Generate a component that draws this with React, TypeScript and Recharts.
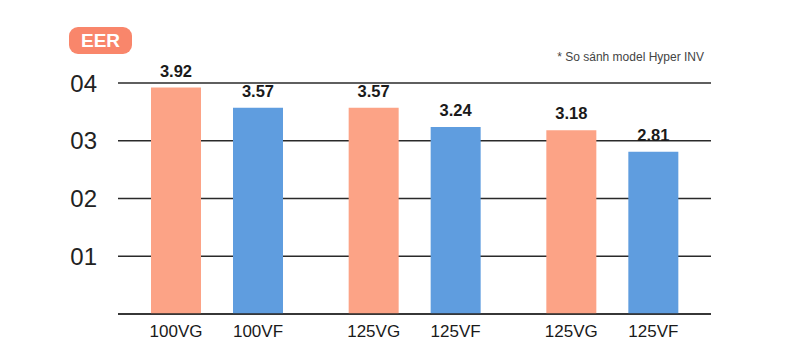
import React from 'react';
import { BarChart, Bar, XAxis, YAxis, CartesianGrid, LabelList } from 'recharts';

const categories = ['G1', 'G2', 'G3'];
const vgLabels = ['100VG', '125VG', '125VG'];
const vfLabels = ['100VF', '125VF', '125VF'];
const vgValues = [3.92, 3.57, 3.18];
const vfValues = [3.57, 3.24, 2.81];
const yTicks = [1, 2, 3, 4];

const data = categories.map((c, i) => ({
  group: c,
  vg: vgValues[i],
  vf: vfValues[i],
  vgLabel: vgLabels[i],
  vfLabel: vfLabels[i],
}));

const FONT = '"Liberation Sans", Arial, Helvetica, sans-serif';
const ORANGE = '#FCA386';
const BLUE = '#5F9DDF';

export default function App() {
  return (
    <div style={{ position: 'absolute', left: 0, top: 0, width: 800, height: 356, background: '#fff', fontFamily: FONT }}>
      <BarChart
        width={800}
        height={356}
        data={data}
        margin={{ top: 83, right: 89, bottom: 0, left: 0 }}
        barGap={32}
      >
        <CartesianGrid horizontal vertical={false} stroke="#2a2a2a" strokeWidth={1.4} />
        <XAxis
          dataKey="group"
          tick={false}
          tickLine={false}
          axisLine={{ stroke: '#2a2a2a', strokeWidth: 1.6 }}
          height={42}
        />
        <YAxis
          width={118}
          domain={[0, 4]}
          ticks={yTicks}
          tickFormatter={(v: number) => '0' + v}
          axisLine={false}
          tickLine={false}
          tickSize={0}
          tickMargin={21}
          tick={{ fill: '#222', fontSize: 24, fontFamily: FONT }}
        />
        <Bar dataKey="vg" fill={ORANGE} barSize={50} isAnimationActive={false}>
          <LabelList dataKey="vg" position="top" offset={11} formatter={(v: number) => v.toFixed(2)} fill="#1a1a1a" fontSize={16.5} fontWeight="bold" fontFamily={FONT} />
          <LabelList dataKey="vgLabel" position="bottom" offset={11} fill="#1a1a1a" fontSize={17} fontFamily={FONT} />
        </Bar>
        <Bar dataKey="vf" fill={BLUE} barSize={50} isAnimationActive={false}>
          <LabelList dataKey="vf" position="top" offset={11} formatter={(v: number) => v.toFixed(2)} fill="#1a1a1a" fontSize={16.5} fontWeight="bold" fontFamily={FONT} />
          <LabelList dataKey="vfLabel" position="bottom" offset={11} fill="#1a1a1a" fontSize={17} fontFamily={FONT} />
        </Bar>
      </BarChart>
      <div
        style={{
          position: 'absolute',
          left: 69,
          top: 27,
          width: 63,
          height: 27,
          borderRadius: 9,
          background: '#F9866B',
          color: '#fff',
          fontWeight: 'bold',
          fontSize: 19,
          lineHeight: '28px',
          textAlign: 'center',
          fontFamily: FONT,
        }}
      >
        EER
      </div>
      <div
        style={{
          position: 'absolute',
          right: 96,
          top: 50,
          fontSize: 12,
          color: '#444',
          fontFamily: FONT,
          whiteSpace: 'nowrap',
        }}
      >
        * So sánh model Hyper INV
      </div>
    </div>
  );
}
